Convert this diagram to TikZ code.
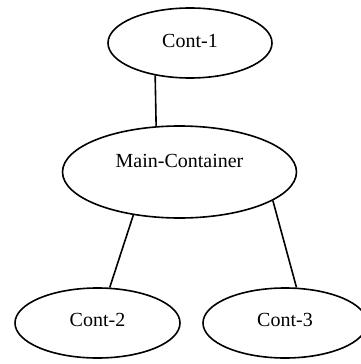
\documentclass[tikz,border=0pt]{standalone}
\usepackage{fontspec}
\setmainfont{Liberation Serif}
\usetikzlibrary{shapes.geometric}
\begin{document}
\begin{tikzpicture}[x=1pt,y=-1pt,
  box/.style={ellipse,draw,line width=1.6pt,inner sep=0pt},
  lbl/.style={anchor=base,inner sep=0pt,font=\fontsize{20}{24}\selectfont},
  link/.style={line width=1.6pt}]
\useasboundingbox (0,0) rectangle (361,364);
% container ellipses
\node[box,minimum width=164pt,minimum height=70pt] (c1) at (190,43) {};
\node[box,minimum width=234pt,minimum height=92pt] (main) at (179.5,172) {};
\node[box,minimum width=165pt,minimum height=70pt] (c2) at (97.5,323) {};
\node[box,minimum width=164pt,minimum height=70pt] (c3) at (285,323) {};
% labels
\node[lbl] (t1) at (190,47) {Cont-1};
\node[lbl] (tm) at (179.5,167) {Main-Container};
\node[lbl] (t2) at (97.5,326.7) {Cont-2};
\node[lbl] (t3) at (285,326.7) {Cont-3};
% links
\draw[link] (c1.223.7) -- (main.117.1);
\draw[link] (main.223.4) -- (c2.71.6);
\draw[link] (main.343.5) -- (c3.72);
\end{tikzpicture}
\end{document}
